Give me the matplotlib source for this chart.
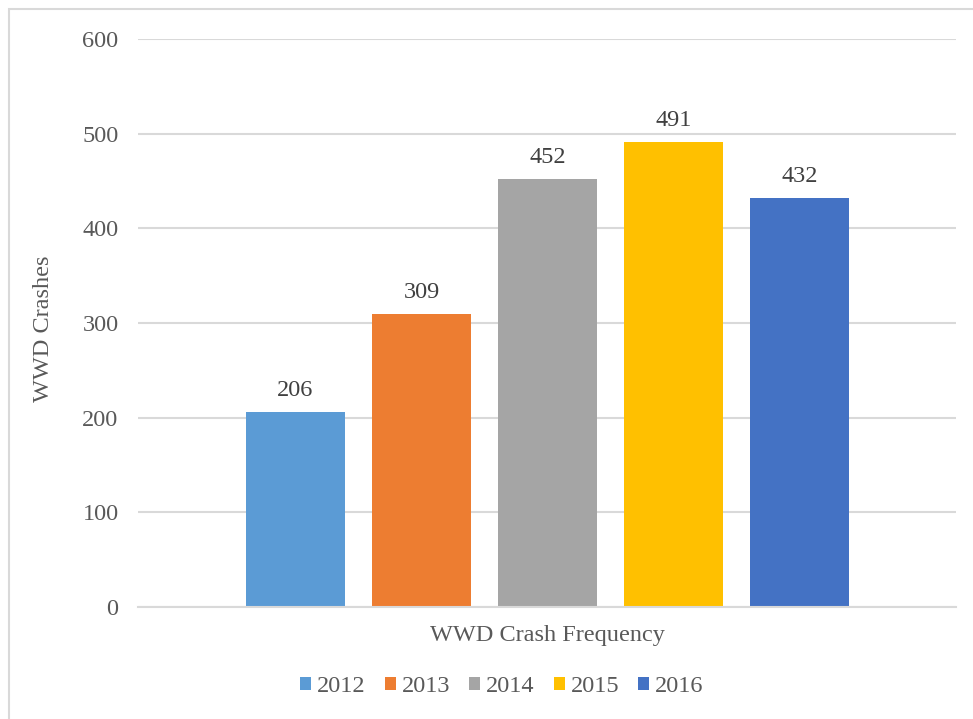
import matplotlib.pyplot as plt
from matplotlib.patches import Rectangle

category = "WWD Crash Frequency"
years = ["2012", "2013", "2014", "2015", "2016"]
crashes = [206, 309, 452, 491, 432]
colors = ["#5B9BD5", "#ED7D31", "#A5A5A5", "#FFC000", "#4472C4"]

plt.rcParams['font.family'] = ['Liberation Serif', 'DejaVu Serif']
txt = "#595959"
grid = "#D9D9D9"
fs = 17.5

fig = plt.figure(figsize=(9.73, 7.19), dpi=100)
ax = fig.add_axes([138 / 973, 1 - 607 / 719, (956 - 138) / 973, (607 - 39) / 719])

# chart border (only top and left edges are inside the image)
fig.patches.append(Rectangle((9 / 973, -0.1), 1.2, 1.1 - 9 / 719, transform=fig.transFigure,
                             fill=False, edgecolor=grid, linewidth=1.5))

for i, (yr, v, c) in enumerate(zip(years, crashes, colors)):
    ax.bar(i, v, width=0.786, color=c, label=yr, zorder=2)
    ax.text(i, v + 17, str(v), ha='center', va='baseline', fontsize=fs, color="#404040")

ax.set_xlim(-1.25, 5.24)
ax.set_ylim(0, 600)
ax.set_yticks(range(0, 601, 100))
ax.yaxis.grid(True, color=grid, linewidth=1.5, zorder=0)
ax.set_axisbelow(True)
for s in ['top', 'right', 'left']:
    ax.spines[s].set_visible(False)
ax.spines['bottom'].set_color(grid)
ax.spines['bottom'].set_linewidth(1.5)
ax.tick_params(axis='y', length=0, pad=14, labelsize=fs, labelcolor=txt)
ax.tick_params(axis='x', length=0, pad=13, labelsize=fs, labelcolor=txt)
ax.set_xticks([2])
ax.set_xticklabels([category])
ax.set_ylabel("WWD Crashes", fontsize=fs, color=txt)
ax.yaxis.set_label_coords((54 - 138) / 818, (607 - 329) / 568)

leg = fig.legend(loc='center', bbox_to_anchor=(502 / 973, 1 - 687 / 719), ncol=5, frameon=False,
                 fontsize=fs, handlelength=0.45, handleheight=0.45, handletextpad=0.25,
                 columnspacing=0.78)
for t in leg.get_texts():
    t.set_color(txt)

fig.savefig("out.png", dpi=100)
